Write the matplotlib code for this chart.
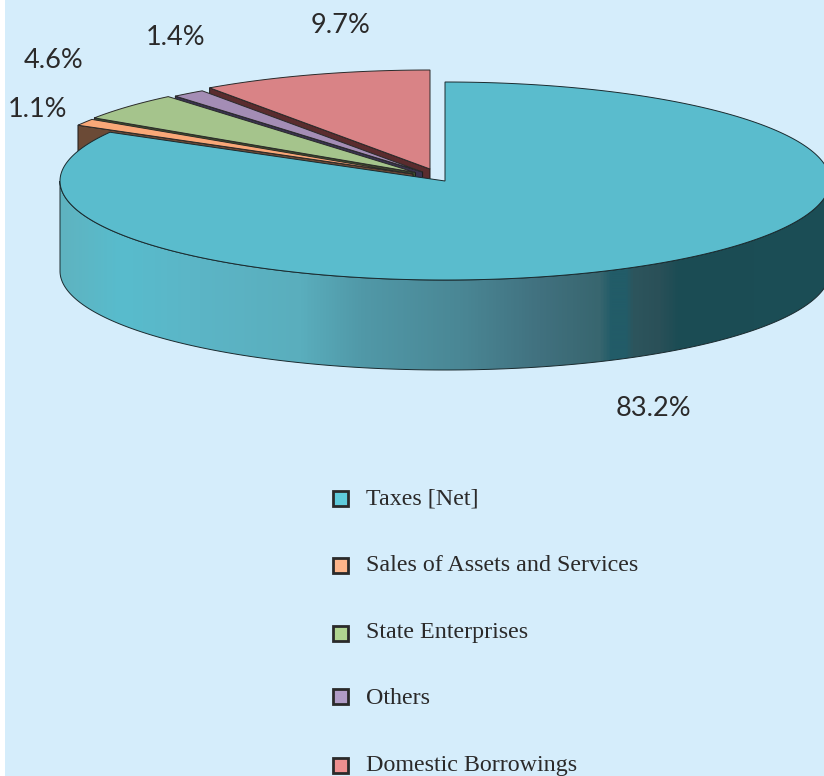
"""Exploded pseudo-3D pie of revenue sources, drawn in pixel coordinates."""
import numpy as np
import matplotlib
matplotlib.use("Agg")
import matplotlib.pyplot as plt
from matplotlib.colors import LinearSegmentedColormap
from matplotlib.patches import Polygon, Rectangle

categories = ["Taxes [Net]", "Sales of Assets and Services", "State Enterprises",
              "Others", "Domestic Borrowings"]
shares = [83.2, 1.1, 4.6, 1.4, 9.7]

BG = "#d5edfb"
TEXT = "#2b2a2a"
TOP_COLORS = ["#5abccd", "#f9a878", "#a5c48c", "#a48db5", "#d98386"]
WALL_COLORS = ["#1c4e56", "#6b4a36", "#3f4f2c", "#3a3350", "#5a2c2e"]
LEGEND_COLORS = ["#5fcbdb", "#fdb58a", "#b0d590", "#b09cc6", "#ee8f8f"]

# slice centres after explosion, pixels
CENTERS = [(445, 181), (413, 174), (415.5, 172.5), (422.6, 172), (430, 169)]
RX, RY = 385, 99
DEPTH = 90

# x centre and text baseline
LABEL_POS = [(653, 416), (37.5, 117), (54, 68), (176, 45), (341, 33)]
LEGEND_Y = [498, 565, 633, 696, 765]
LEGEND_BASE = [504, 571, 638, 704, 771]

# side wall shading of the big slice, left to right
GRAD_X = [60, 120, 200, 300, 360, 460, 540, 600, 612, 627, 634, 660, 680, 830]
GRAD_C = ["#5fb3c0", "#58bccd", "#5cb5c6", "#5aaebd", "#5199a8", "#4a8795",
          "#41717f", "#38666f", "#225c68", "#225c68", "#2d555d", "#2a5058",
          "#1b4c54", "#1c4e56"]


def arc(center, a0, a1, n=200):
    t = np.radians(np.linspace(a0, a1, n))
    return np.column_stack([center[0] + RX * np.cos(t), center[1] - RY * np.sin(t)])


fig = plt.figure(figsize=(8.24, 7.76), dpi=100, facecolor="white")
ax = fig.add_axes([0, 0, 1, 1])
ax.set_xlim(0, 824)
ax.set_ylim(776, 0)
ax.axis("off")
ax.add_patch(Rectangle((5, 0), 819, 776, fc=BG, ec="none", zorder=0))

# angles run clockwise from twelve o'clock, the small slices are painted first
ends = 90 - np.cumsum([0] + shares) * 3.6
z = 2
for i in [4, 3, 2, 1]:
    c = CENTERS[i]
    a0, a1 = ends[i], ends[i + 1]
    # only the lower cut face of each slice can be seen, that is the a0 edge
    p = arc(c, a0, a0, 1)[0]
    cut = [c, p, (p[0], p[1] + DEPTH), (c[0], c[1] + DEPTH)]
    ax.add_patch(Polygon(cut, fc=WALL_COLORS[i], ec="#1a1a1a", lw=0.7, zorder=z))
    top = np.vstack([[c], arc(c, a0, a1)])
    ax.add_patch(Polygon(top, fc=TOP_COLORS[i], ec="#2a2a2a", lw=0.7, zorder=z + 1))
    z += 2

# big slice: wall with gradient, then its top
c = CENTERS[0]
front = arc(c, 180, 360, 300)
wall = np.vstack([front, (front + [0, DEPTH])[::-1]])
span = GRAD_X[-1] - GRAD_X[0]
cmap = LinearSegmentedColormap.from_list(
    "wall", [((x - GRAD_X[0]) / span, col) for x, col in zip(GRAD_X, GRAD_C)], N=512)
im = ax.imshow(np.linspace(0, 1, 770).reshape(1, -1), cmap=cmap, aspect="auto",
               extent=(GRAD_X[0], GRAD_X[-1], 380, 170), zorder=z)
wall_patch = Polygon(wall, fc="none", ec="#1a2a2e", lw=0.7, zorder=z + 1)
ax.add_patch(wall_patch)
im.set_clip_path(wall_patch)
ax.set_xlim(0, 824)
ax.set_ylim(776, 0)
ax.add_patch(Polygon(np.vstack([[c], arc(c, ends[0], ends[1], 400)]),
                     fc=TOP_COLORS[0], ec="#1a2a2e", lw=0.7, zorder=z + 2))

for v, (x, y) in zip(shares, LABEL_POS):
    ax.text(x, y, f"{v}%", ha="center", va="baseline", color=TEXT, fontsize=19.5,
            family="Lato", zorder=20)

for name, col, y, base in zip(categories, LEGEND_COLORS, LEGEND_Y, LEGEND_BASE):
    ax.add_patch(Rectangle((333.5, y - 7.5), 15, 15, fc=col, ec="#2a2a2a", lw=2, zorder=20))
    ax.text(366, base, name, ha="left", va="baseline", color=TEXT, fontsize=17.3,
            family="Liberation Serif", zorder=20)

fig.savefig("out.png", dpi=100, facecolor=fig.get_facecolor())
plt.close(fig)
